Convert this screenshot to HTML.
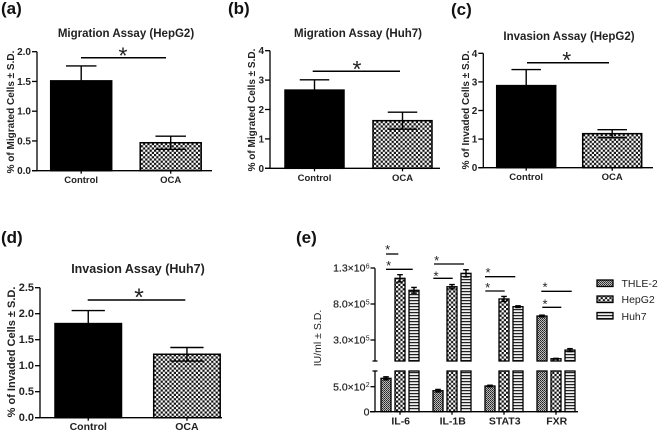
<!DOCTYPE html>
<html>
<head>
<meta charset="utf-8">
<title>Migration and invasion assays</title>
<style>
html,body{margin:0;padding:0;background:#fff;width:660px;height:432px;overflow:hidden}
svg{display:block;font-family:"Liberation Sans",Arial,sans-serif;filter:blur(0.35px)}
.plabel{font-size:17px;font-weight:bold;fill:#111}
.title{font-size:11.5px;font-weight:bold;fill:#222;text-anchor:middle}
.ytitle{font-size:10px;font-weight:bold;fill:#222;text-anchor:middle}
.tick{font-size:10px;font-weight:bold;fill:#222;text-anchor:end}
.cat{font-size:9.5px;font-weight:bold;fill:#222;text-anchor:middle}
.legend{font-size:10.5px;fill:#222}
</style>
</head>
<body>
<svg id="figure" width="660" height="432" viewBox="0 0 660 432" xmlns="http://www.w3.org/2000/svg">
<defs>
<pattern id="checker" width="4.4" height="4.4" patternUnits="userSpaceOnUse">
<rect width="4.4" height="4.4" fill="#fff"/><rect width="2.2" height="2.2" fill="#111"/><rect x="2.2" y="2.2" width="2.2" height="2.2" fill="#111"/>
</pattern>
<pattern id="fine" width="2" height="2" patternUnits="userSpaceOnUse">
<rect width="2" height="2" fill="#bbb"/><rect width="1" height="1" fill="#222"/><rect x="1" y="1" width="1" height="1" fill="#444"/>
</pattern>
<pattern id="stripes" width="3" height="3" patternUnits="userSpaceOnUse">
<rect width="3" height="3" fill="#eee"/><rect width="3" height="1.2" fill="#222"/>
</pattern>
</defs>

<text class="plabel" x="1" y="14">(a)</text>
<text class="plabel" x="228" y="14">(b)</text>
<text class="plabel" x="451" y="15">(c)</text>
<text class="plabel" x="1" y="243">(d)</text>
<text class="plabel" x="296" y="243">(e)</text>

<text class="title" x="126" y="37">Migration Assay (HepG2)</text>
<text class="title" x="358" y="37">Migration Assay (Huh7)</text>
<text class="title" x="569" y="40">Invasion Assay (HepG2)</text>
<text class="title" x="138" y="273" style="font-size:12.5px">Invasion Assay (Huh7)</text>

<text class="ytitle" transform="translate(14,112) rotate(-90)">% of Migrated Cells ± S.D.</text>
<text class="ytitle" transform="translate(255,110) rotate(-90)">% of Migrated Cells ± S.D.</text>
<text class="ytitle" transform="translate(469,110) rotate(-90)">% of Invaded Cells ± S.D.</text>
<text class="ytitle" transform="translate(15,352) rotate(-90)" style="font-size:11px">% of Invaded Cells ± S.D.</text>
<text class="ytitle" transform="translate(321,338) rotate(-90)" style="font-size:10.5px;font-weight:normal">IU/ml ± S.D.</text>

<g id="panels"></g>
<g id="panel-e"></g>

<g>
<rect x="597" y="280" width="16" height="6.5" fill="url(#fine)" stroke="#000" stroke-width="1.3"/>
<text class="legend" x="621.5" y="287">THLE-2</text>
<rect x="597" y="296" width="16" height="6.5" fill="url(#checker)" stroke="#000" stroke-width="1.3"/>
<text class="legend" x="621.5" y="303">HepG2</text>
<rect x="597" y="312.5" width="16" height="6.5" fill="url(#stripes)" stroke="#000" stroke-width="1.3"/>
<text class="legend" x="621.5" y="320">Huh7</text>
</g>
</svg>

<script>
// ---- chart data ----
const categories = ['Control', 'OCA'];

const migrationHepG2Values = [1.51, 0.47];
const migrationHepG2Errors = [0.25, 0.11];
const migrationHepG2Ticks = [0, 0.5, 1, 1.5, 2];
const migrationHepG2TickLabels = ['0.0', '0.5', '1.0', '1.5', '2.0'];

const migrationHuh7Values = [2.66, 1.62];
const migrationHuh7Errors = [0.35, 0.29];
const migrationHuh7Ticks = [0, 1, 2, 3, 4];
const migrationHuh7TickLabels = ['0', '1', '2', '3', '4'];

const invasionHepG2Values = [2.87, 1.19];
const invasionHepG2Errors = [0.56, 0.14];
const invasionHepG2Ticks = [0, 1, 2, 3, 4];
const invasionHepG2TickLabels = ['0', '1', '2', '3', '4'];

const invasionHuh7Values = [1.81, 1.22];
const invasionHuh7Errors = [0.25, 0.13];
const invasionHuh7Ticks = [0, 0.5, 1, 1.5, 2, 2.5];
const invasionHuh7TickLabels = ['0.0', '0.5', '1.0', '1.5', '2.0', '2.5'];

const markers = ['IL-6', 'IL-1B', 'STAT3', 'FXR'];
const seriesNames = ['THLE-2', 'HepG2', 'Huh7'];
const thle2Values = [668, 420, 514, 633000];
const thle2Errors = [30, 25, 15, 12000];
const hepg2Values = [1157000, 1040000, 870000, 40000];
const hepg2Errors = [50000, 30000, 35000, 5000];
const huh7Values = [990000, 1226000, 763000, 160000];
const huh7Errors = [40000, 50000, 12000, 20000];
const markerTicks = [0, 500, 300000, 800000, 1300000];
const markerTickMantissas = ['0', '5.0×10', '3.0×10', '8.0×10', '1.3×10'];
const markerTickExponents = ['', '2', '5', '5', '6'];

// ---- drawing ----
const NS = 'http://www.w3.org/2000/svg';
function make(parent, tag, attrs, text) {
  const el = document.createElementNS(NS, tag);
  for (const k in attrs) el.setAttribute(k, attrs[k]);
  if (text !== undefined) el.textContent = text;
  parent.appendChild(el);
  return el;
}
function line(parent, x1, y1, x2, y2, w) {
  return make(parent, 'line', {x1: x1, y1: y1, x2: x2, y2: y2, stroke: '#000', 'stroke-width': w || 1.3});
}
function star(parent, cx, cy, size) {
  const el = make(parent, 'text', {x: cx, y: cy + size * 0.55, 'text-anchor': 'middle', 'font-size': size, fill: '#222'}, '*');
  
  
  return el;
}
function sigLine(parent, x1, x2, y, w) {
  const el = line(parent, x1, y, x2, y, w);
  
  
  return el;
}
function errorBar(parent, cx, yTop, yLow, yBase, capHalf, w) {
  const g = make(parent, 'g', {});
  
  
  line(g, cx, yTop, cx, yLow, w);
  line(g, cx - capHalf, yTop, cx + capHalf, yTop, w);
  line(g, cx - capHalf, yLow, cx + capHalf, yLow, w);
}

function drawPanel(values, errors, ticks, tickLabels, maxValue, p) {
  const root = document.getElementById('panels');
  const g = make(root, 'g', {});
  
  
  const y = v => p.y0 - v / maxValue * (p.y0 - p.yTop);
  const x = i => p.barStart + i * p.barStep;
  values.forEach((v, i) => {
    const bar = make(g, 'rect', {x: x(i), y: y(v), width: p.barWidth, height: p.y0 - y(v),
      fill: i === 0 ? '#000' : 'url(#checker)', stroke: '#000', 'stroke-width': 1.5});
    
    
    errorBar(g, x(i) + p.barWidth / 2, y(v + errors[i]), y(v - errors[i]), p.y0, p.barWidth / 4, 1.4);
    const tickMark = line(g, x(i) + p.barWidth / 2, p.y0, x(i) + p.barWidth / 2, p.y0 + 3);
    
    
    const label = make(g, 'text', {class: 'cat', x: x(i) + p.barWidth / 2, y: p.y0 + 12.5, style: 'font-size:' + p.catSize + 'px'}, categories[i]);
    
    
  });
  const yAxis = line(g, p.x0, p.yTop, p.x0, p.y0);
  
  
  const xAxis = line(g, p.x0 - 5, p.y0, p.xEnd, p.y0);
  
  
  ticks.forEach((t, i) => {
    const tickMark = line(g, p.x0 - 5, y(t), p.x0, y(t));
    
    
    const label = make(g, 'text', {class: 'tick', x: p.x0 - 6, y: y(t) + 3.5, style: 'font-size:' + p.tickSize + 'px'}, tickLabels[i]);
    
    
  });
  sigLine(g, p.sigX1, p.sigX2, p.sigY, 1.5);
  star(g, p.starX, p.starY, p.starSize);
}

drawPanel(migrationHepG2Values, migrationHepG2Errors, migrationHepG2Ticks, migrationHepG2TickLabels, 2,
  {id: 'a', x0: 37, xEnd: 212, y0: 170.7, yTop: 51.7, barStart: 50.7, barStep: 89.5, barWidth: 61, sigX1: 81, sigX2: 166, sigY: 57.7, starX: 123, starY: 51, starSize: 23, tickSize: 10, catSize: 9.5});
drawPanel(migrationHuh7Values, migrationHuh7Errors, migrationHuh7Ticks, migrationHuh7TickLabels, 4,
  {id: 'b', x0: 270, xEnd: 440, y0: 168.3, yTop: 50.7, barStart: 285, barStep: 88, barWidth: 59, sigX1: 312.7, sigX2: 400, sigY: 71.3, starX: 357, starY: 64.5, starSize: 23, tickSize: 10, catSize: 9.5});
drawPanel(invasionHepG2Values, invasionHepG2Errors, invasionHepG2Ticks, invasionHepG2TickLabels, 4,
  {id: 'c', x0: 483.3, xEnd: 653, y0: 167.7, yTop: 53.3, barStart: 496.7, barStep: 86, barWidth: 59, sigX1: 527, sigX2: 609, sigY: 62.7, starX: 566.7, starY: 55.5, starSize: 23, tickSize: 10, catSize: 9.5});
drawPanel(invasionHuh7Values, invasionHuh7Errors, invasionHuh7Ticks, invasionHuh7TickLabels, 2.5,
  {id: 'd', x0: 40, xEnd: 222, y0: 417.7, yTop: 287.7, barStart: 55, barStep: 98.7, barWidth: 66.5, sigX1: 87.7, sigX2: 185.3, sigY: 300, starX: 139, starY: 292, starSize: 25, tickSize: 11, catSize: 10.5});

// ---- panel (e): broken y axis ----
(function () {
  const g = document.getElementById('panel-e');
  const lowZero = 411.7, lowTop = 371, upBottom = 361, upTop = 268.3;
  const lowMax = (lowZero - lowTop) / 25 * 500;
  const yE = v => v <= lowMax ? lowZero - v / 500 * 25 : 340 - (v - 300000) / 1000000 * 72;
  const fills = ['url(#fine)', 'url(#checker)', 'url(#stripes)'];
  const seriesValues = [thle2Values, hepg2Values, huh7Values];
  const seriesErrors = [thle2Errors, hepg2Errors, huh7Errors];
  const groupX = i => 400 + i * 52;
  const barWidth = 10;

  markers.forEach((m, i) => {
    seriesNames.forEach((s, j) => {
      const v = seriesValues[j][i], e = seriesErrors[j][i];
      const x = groupX(i) + (j - 1) * 14 - barWidth / 2;
      const topLow = v <= lowMax ? yE(v) : lowTop;
      const low = make(g, 'rect', {x: x, y: topLow, width: barWidth, height: lowZero - topLow, fill: fills[j], stroke: '#000', 'stroke-width': 1.3});
      
      
      if (v > lowMax) {
        const up = make(g, 'rect', {x: x, y: yE(v), width: barWidth, height: upBottom - yE(v), fill: fills[j], stroke: '#000', 'stroke-width': 1.3});
        
        
      }
      errorBar(g, x + barWidth / 2, yE(v + e), yE(Math.max(v - e, 0)), lowZero, 2.8, 1.4);
    });
    const tickMark = line(g, groupX(i), lowZero, groupX(i), lowZero + 3);
    
    
    const label = make(g, 'text', {class: 'cat', x: groupX(i) + 0.7, y: 424.5, style: 'font-size:10.5px'}, m);
    
    
  });

  const upperAxis = line(g, 375, upTop, 375, upBottom);
  
  
  const lowerAxis = line(g, 375, lowTop, 375, lowZero);
  
  
  const capA = line(g, 372.5, upBottom, 377.5, upBottom);
  
  
  const capB = line(g, 372.5, lowTop, 377.5, lowTop);
  
  
  const xAxis = line(g, 370, lowZero, 578, lowZero);
  
  

  markerTicks.forEach((t, i) => {
    const tickMark = line(g, 370.5, yE(t), 375, yE(t));
    
    
    const label = make(g, 'text', {class: 'tick', x: 369.5, y: yE(t) + 3.6, style: 'font-size:10.5px;font-weight:normal;stroke:#222;stroke-width:0.2'}, markerTickMantissas[i]);
    
    
    if (markerTickExponents[i]) {
      label.setAttribute('x', 365.5);
      const sup = make(g, 'text', {x: 365.8, y: yE(t) + 0.5, 'font-size': 7, fill: '#222'}, markerTickExponents[i]);
      
      
    }
  });

  sigLine(g, 386, 398.3, 254);   star(g, 387.7, 247, 13);
  sigLine(g, 386, 412.7, 269.3); star(g, 388.7, 263, 13);
  sigLine(g, 434, 464, 264);     star(g, 436.7, 257.7, 13);
  sigLine(g, 433.3, 452.7, 278.3); star(g, 436, 273.2, 13);
  sigLine(g, 485, 515.3, 276.7); star(g, 488, 270, 13);
  sigLine(g, 485.3, 504.7, 291); star(g, 487.7, 285, 13);
  sigLine(g, 541.3, 571.7, 291.3); star(g, 545, 284.3, 13);
  sigLine(g, 542.3, 561.3, 307.3); star(g, 545, 301.3, 13);
})();
</script>
</body>
</html>
